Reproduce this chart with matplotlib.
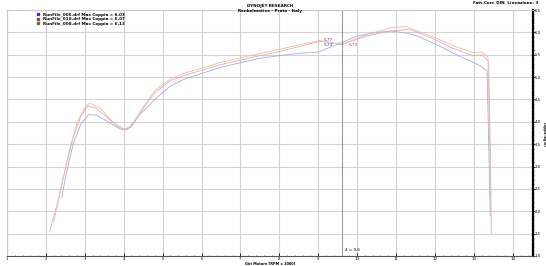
import matplotlib
matplotlib.use("Agg")
import matplotlib.pyplot as plt
from matplotlib.lines import Line2D
from matplotlib.ticker import FuncFormatter, MultipleLocator

# run names and max torque from the legend
runs = ["RunFile_005.drf", "RunFile_010.drf", "RunFile_008.drf"]
max_torque = ["6,03", "6,07", "6,13"]

# RPM x 1000 / torque (Kg m)
rpm_005 = [2.41, 2.5, 2.7, 2.9, 3.1, 3.3, 3.6, 3.9, 4.1, 4.4, 4.8, 5.2, 5.6, 6.0, 6.5,
           7.0, 7.5, 8.0, 8.5, 9.0, 9.6, 10.0, 10.5, 10.9, 11.3, 11.6, 12.1, 12.6,
           13.15, 13.34, 13.38, 13.42]
tq_005 = [2.3, 2.75, 3.5, 3.95, 4.16, 4.15, 4.0, 3.84, 3.83, 4.15, 4.5, 4.8, 4.97,
          5.08, 5.22, 5.32, 5.42, 5.48, 5.53, 5.56, 5.77, 5.92, 6.0, 6.03, 5.98, 5.9,
          5.7, 5.48, 5.26, 5.14, 3.6, 1.9]

rpm_010 = [2.1, 2.3, 2.5, 2.7, 2.9, 3.08, 3.3, 3.6, 3.8, 4.0, 4.2, 4.5, 4.8, 5.2, 5.6,
           6.0, 6.5, 7.0, 7.5, 8.0, 8.5, 9.05, 9.6, 10.25, 10.85, 11.35, 11.95, 12.47,
           12.98, 13.2, 13.38, 13.42, 13.45]
tq_010 = [1.55, 2.2, 2.95, 3.65, 4.12, 4.36, 4.3, 4.08, 3.92, 3.82, 3.88, 4.3, 4.65,
          4.92, 5.05, 5.15, 5.28, 5.38, 5.48, 5.57, 5.68, 5.8, 5.73, 5.92, 6.03, 6.07,
          5.86, 5.64, 5.48, 5.5, 5.35, 3.5, 1.5]

rpm_008 = [2.2, 2.4, 2.6, 2.8, 3.0, 3.12, 3.4, 3.7, 4.0, 4.2, 4.5, 4.8, 5.2, 5.6, 6.0,
           6.5, 7.0, 7.5, 8.0, 8.5, 9.05, 9.6, 10.25, 10.85, 11.25, 11.95, 12.47,
           12.98, 13.2, 13.36, 13.4, 13.44]
tq_008 = [1.75, 2.55, 3.35, 3.98, 4.32, 4.42, 4.3, 4.02, 3.84, 3.9, 4.33, 4.7, 4.96,
          5.1, 5.2, 5.33, 5.43, 5.53, 5.62, 5.72, 5.82, 5.73, 5.95, 6.1, 6.13, 5.9,
          5.7, 5.55, 5.56, 5.45, 3.8, 2.3]

line_colors = ["#a8a8ee", "#eeaaaa", "#dcc4a4"]
legend_colors = ["#3434c0", "#c03434", "#348034"]
cursor_rpm = 9.6

fig = plt.figure(figsize=(5.46, 2.66), dpi=100)
ax = fig.add_axes([0.0128, 0.0376, 0.9634, 0.9248])

ax.plot(rpm_005, tq_005, color=line_colors[0], lw=0.6)
ax.plot(rpm_010, tq_010, color=line_colors[1], lw=0.6)
ax.plot(rpm_008, tq_008, color=line_colors[2], lw=0.6)

ax.set_xlim(1, 14.52)
ax.set_ylim(1.0, 6.5)
ax.xaxis.set_major_locator(MultipleLocator(1))
ax.xaxis.set_minor_locator(MultipleLocator(0.2))
ax.yaxis.set_major_locator(MultipleLocator(0.5))
ax.yaxis.set_minor_locator(MultipleLocator(0.1))
ax.yaxis.tick_right()
ax.yaxis.set_major_formatter(FuncFormatter(lambda v, p: f"{v:.1f}".replace(".", ",")))
ax.xaxis.set_major_formatter(FuncFormatter(lambda v, p: f"{int(v)}"))
ax.tick_params(labelsize=2.8, width=0.6)
ax.tick_params(axis="y", which="major", length=1.2, pad=0.2)
ax.tick_params(axis="y", which="minor", length=0.8, width=0.4)
ax.tick_params(axis="x", which="major", direction="in", length=2, pad=0.6)
ax.tick_params(axis="x", which="minor", direction="in", length=1, width=0.4)
ax.grid(True, which="major", color="#d2d2d2", lw=0.8)

for side in ["top", "left"]:
    ax.spines[side].set_color("#c8c8c8")
    ax.spines[side].set_linewidth(0.8)
ax.spines["right"].set_linewidth(1.6)
ax.spines["bottom"].set_linewidth(0.8)
ax.spines["bottom"].set_color("#555555")

# axis titles placed by hand so they stay inside the small canvas
fig.text(0.495, 0.001, "Giri Motore [RPM x 1000]", fontsize=2.5, fontweight="bold",
         ha="center", va="bottom")
fig.text(0.9995, 0.497, "Coppia [Kg m]", fontsize=2.2, fontweight="bold", rotation=-90,
         ha="right", va="center")

# cursor line and readouts
ax.axvline(cursor_rpm, color="#808080", lw=0.6)
ax.text(cursor_rpm + 0.08, 1.12, "4 = 9,6", fontsize=3)
ax.annotate("5,77", xy=(cursor_rpm, 5.77), xytext=(cursor_rpm - 0.45, 5.82),
            fontsize=3, color="#3434a0", va="center",
            arrowprops=dict(arrowstyle="-", color="#3434a0", lw=0.4))
ax.annotate("5,73", xy=(cursor_rpm, 5.73), xytext=(cursor_rpm - 0.45, 5.71),
            fontsize=3, color="#3434a0", va="center",
            arrowprops=dict(arrowstyle="-", color="#3434a0", lw=0.4))
ax.annotate("5,73", xy=(cursor_rpm, 5.73), xytext=(cursor_rpm + 0.18, 5.72),
            fontsize=3, color="#c03434", va="center",
            arrowprops=dict(arrowstyle="-", color="#c03434", lw=0.4))

handles = [Line2D([], [], marker="s", ls="none", color=c, markersize=2) for c in legend_colors]
labels = [f"{r} Max Coppia = {m}" for r, m in zip(runs, max_torque)]
ax.legend(handles, labels, loc="upper left", bbox_to_anchor=(0.045, 1.0),
          frameon=False, handletextpad=0.2, labelspacing=0.1, borderpad=0.2,
          prop={"size": 3, "weight": "bold"})

fig.text(0.495, 0.985, "DYNOJET RESEARCH", fontsize=3, fontweight="bold", ha="center", va="top")
fig.text(0.495, 0.965, "Renkelmotive - Prato - Italy", fontsize=3, fontweight="bold",
         ha="center", va="top")
fig.text(0.985, 0.995, "Fatt.Corr. DIN  Lineazione: 3", fontsize=3, fontweight="bold",
         ha="right", va="top")

fig.savefig("out.png", dpi=100)
